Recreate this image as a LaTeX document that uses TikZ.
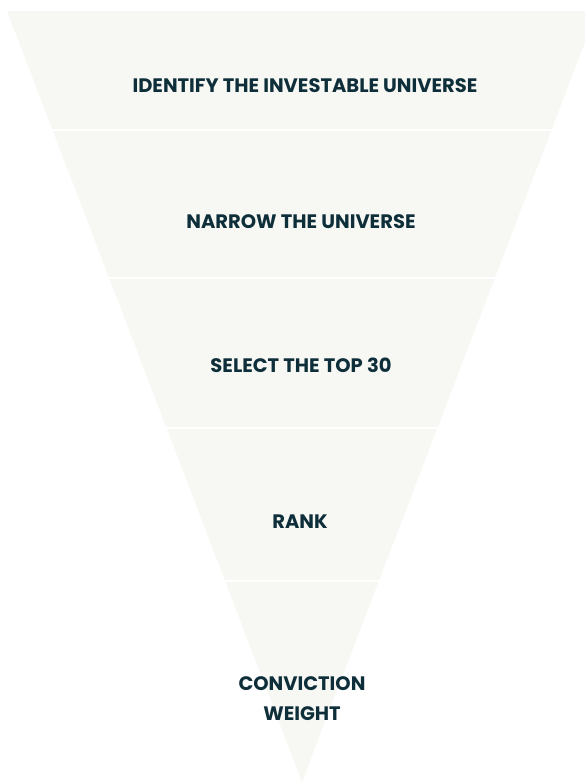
\documentclass[tikz,border=0pt]{standalone}
\usepackage{fontspec}
\setmainfont{Poppins}
\definecolor{funnelfill}{HTML}{F7F7F3}
\definecolor{stageink}{HTML}{0E2F3A}

\begin{document}
\begin{tikzpicture}[x=1pt,y=-1pt,inner sep=0pt,outer sep=0pt,
stagelabel/.style={text=stageink,font=\bfseries\fontsize{19.5}{30}\selectfont,align=center},
gap/.style={draw=white,line width=2pt}]
\useasboundingbox (0,0) rectangle (585,782);
\clip (0,0) rectangle (585,782);

% funnel body, cut into five stages by white gaps
\fill[funnelfill] (7,11) -- (597,11) -- (302,782) -- cycle;
\draw[gap] (0,129.5) -- (585,129.5);
\draw[gap] (0,277.8) -- (585,277.8);
\draw[gap] (0,428) -- (585,428);
\draw[gap] (0,581) -- (585,581);

\draw (305,86) node[stagelabel] (universe) {IDENTIFY THE INVESTABLE UNIVERSE};
\draw (301,222) node[stagelabel] (narrow) {NARROW THE UNIVERSE};
\draw (301,365) node[stagelabel] (top30) {SELECT THE TOP 30};
\draw (300,522) node[stagelabel] (rank) {RANK};
\draw (302,699) node[stagelabel] (weight) {CONVICTION\\WEIGHT};
\end{tikzpicture}
\end{document}
